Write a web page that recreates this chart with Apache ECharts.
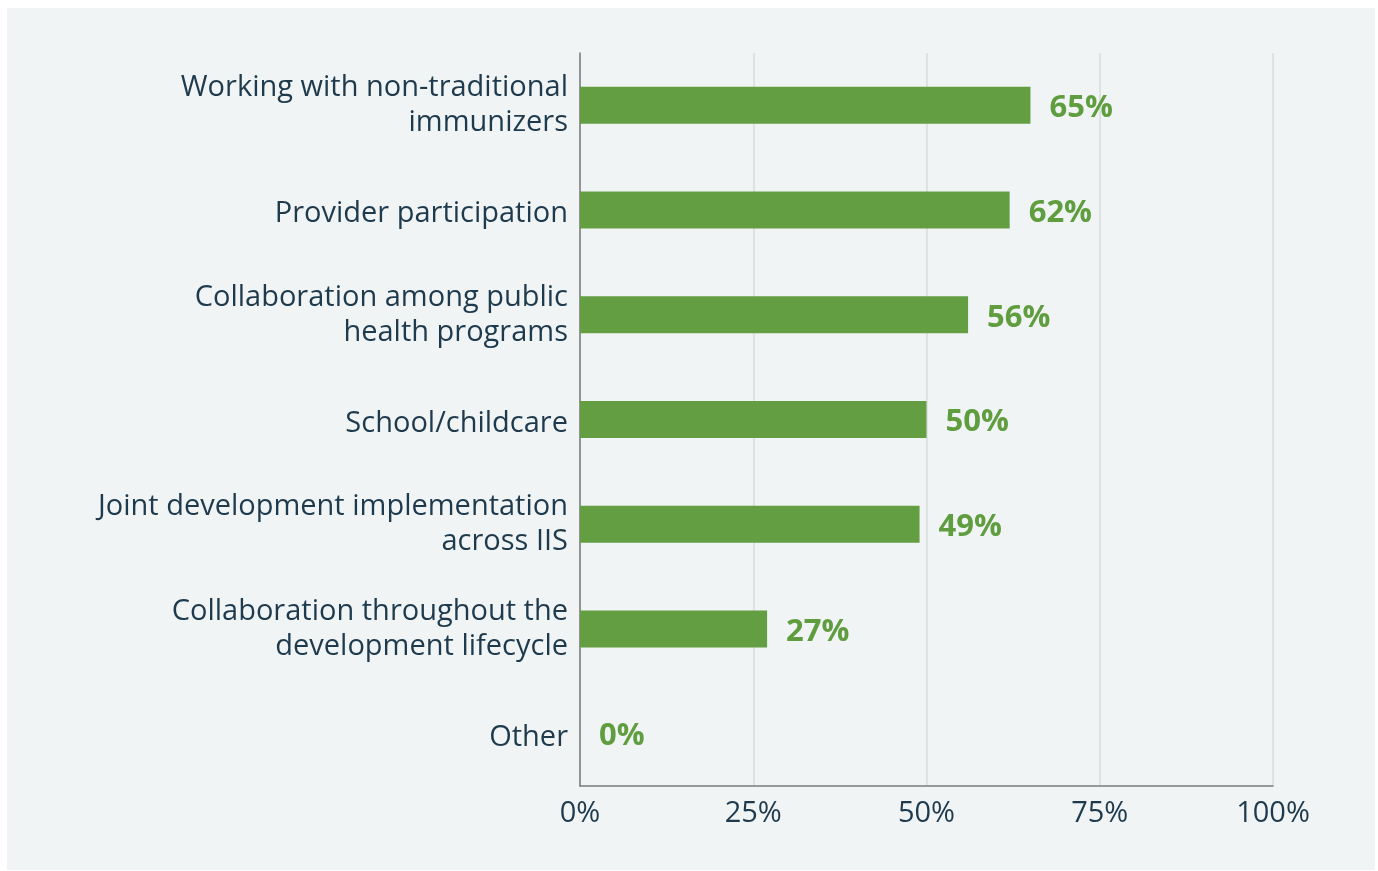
<!DOCTYPE html>
<html>
<head>
<meta charset="utf-8">
<script src="https://cdn.jsdelivr.net/npm/echarts@6/dist/echarts.min.js"></script>
<style>
  html, body { margin: 0; padding: 0; background: #ffffff; }
  #panel { position: absolute; left: 7px; top: 8px; width: 1368px; height: 862px; background: #f0f4f5; }
  #chart { width: 100%; height: 100%; }
</style>
</head>
<body>
<div id="panel"><div id="chart"></div></div>
<script>
// Survey categories, top to bottom
const categories = [
  'Working with non-traditional\nimmunizers',
  'Provider participation',
  'Collaboration among public\nhealth programs',
  'School/childcare',
  'Joint development implementation\nacross IIS',
  'Collaboration throughout the\ndevelopment lifecycle',
  'Other'
];
// Share of respondents (%)
const values = [65, 62, 56, 50, 49, 27, 0];
const tickValues = [0, 25, 50, 75, 100];

const chart = echarts.init(document.getElementById('chart'));
const font = '"Open Sans", "Noto Sans", sans-serif';

chart.setOption({
  animation: false,
  backgroundColor: 'transparent',
  grid: { left: 573, right: 102, top: 45, bottom: 84, containLabel: false },
  xAxis: {
    type: 'value',
    min: tickValues[0],
    max: tickValues[tickValues.length - 1],
    interval: 25,
    axisLine: { show: true, lineStyle: { color: '#7a7a7a', width: 1.5 } },
    axisTick: { show: false },
    splitLine: { show: true, lineStyle: { color: '#d9dcdc', width: 1.5 } },
    axisLabel: {
      formatter: v => v + '%',
      color: '#1e3a4c',
      fontFamily: font,
      fontSize: 29,
      margin: 13
    }
  },
  yAxis: {
    type: 'category',
    inverse: true,
    data: categories,
    axisLine: { show: true, lineStyle: { color: '#7a7a7a', width: 1.5 } },
    axisTick: { show: false },
    axisLabel: {
      color: '#1e3a4c',
      fontFamily: font,
      fontSize: 29,
      lineHeight: 35,
      margin: 12,
      align: 'right',
      // single-line names sit a little lower than wrapped ones
      formatter: name => name.indexOf('\n') < 0 ? '{one|' + name + '}' : name,
      rich: {
        one: {
          color: '#1e3a4c',
          fontFamily: font,
          fontSize: 29,
          lineHeight: 35,
          padding: [8, 0, 0, 0]
        }
      }
    }
  },
  series: [{
    type: 'bar',
    data: values,
    barWidth: 37,
    itemStyle: { color: '#639e42' },
    label: {
      show: true,
      position: 'right',
      distance: 19,
      offset: [0, 3],
      formatter: p => p.value + '%',
      color: '#5f9d3f',
      fontFamily: font,
      fontWeight: 'bold',
      fontSize: 31
    }
  }]
});
</script>
</body>
</html>
